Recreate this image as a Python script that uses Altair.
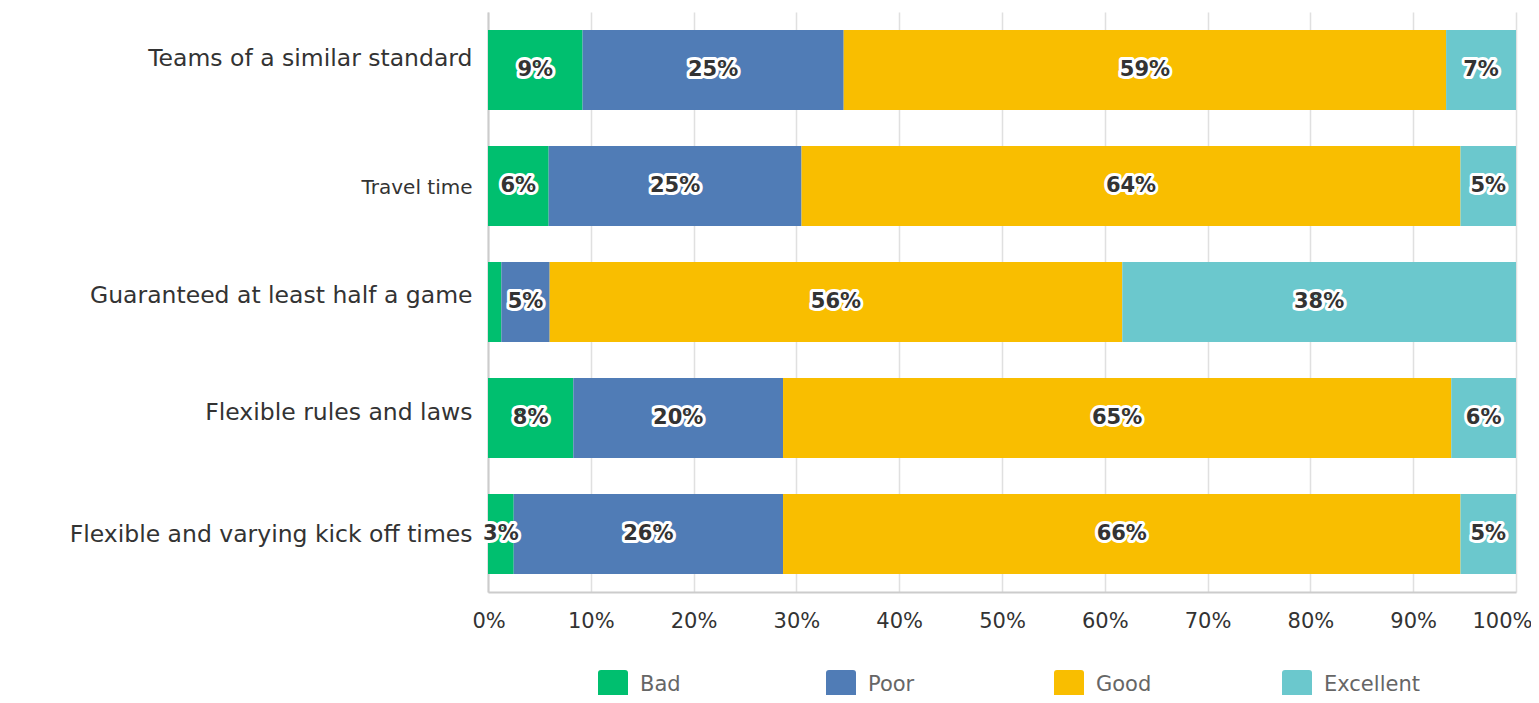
import altair as alt
import pandas as pd

questions = [
    "Teams of a similar standard",
    "Travel time",
    "Guaranteed at least half a game",
    "Flexible rules and laws",
    "Flexible and varying kick off times",
]
ratings = ["Bad", "Poor", "Good", "Excellent"]
colors = ["#00BF6F", "#507CB6", "#F9BE00", "#6BC8CD"]

bad = [9.2, 5.9, 1.3, 8.3, 2.5]
poor = [25.4, 24.6, 4.7, 20.4, 26.2]
good = [58.6, 64.1, 55.7, 65.0, 65.9]
excellent = [6.8, 5.4, 38.3, 6.3, 5.4]

tick_values = [0, 10, 20, 30, 40, 50, 60, 70, 80, 90, 100]

series = [bad, poor, good, excellent]
rows = []
for qi, q in enumerate(questions):
    for ri, r in enumerate(ratings):
        rows.append({"question": q, "rating": r, "idx": ri, "value": series[ri][qi]})
df = pd.DataFrame(rows)

FONT = "DejaVu Sans"

base = alt.Chart(df).transform_stack(
    stack="value", groupby=["question"], as_=["x0", "x1"], sort=[alt.SortField("idx")]
).transform_calculate(
    mid="(datum.x0 + datum.x1) / 2",
    label="round(datum.value) + '%'",
)

y_enc = alt.Y(
    "question:N",
    sort=questions,
    title=None,
    scale=alt.Scale(paddingInner=0.31, paddingOuter=0.155),
    axis=alt.Axis(
        domain=True,
        domainColor="#cccccc",
        domainWidth=2,
        ticks=False,
        grid=False,
        labelFontSize=alt.ExprRef("datum.value == 'Travel time' ? 20 : 23.5"),
        labelOffset=alt.ExprRef(
            "datum.value == 'Teams of a similar standard' ? -11 : "
            "datum.value == 'Guaranteed at least half a game' ? -6 : "
            "datum.value == 'Flexible rules and laws' ? -5 : "
            "datum.value == 'Travel time' ? 2 : 1"
        ),
        labelColor="#333333",
        labelFont=FONT,
        labelPadding=16,
        labelLimit=600,
    ),
)

bars = base.mark_bar().encode(
    x=alt.X(
        "x0:Q",
        title=None,
        scale=alt.Scale(domain=[0, 100], nice=False),
        axis=alt.Axis(
            values=tick_values,
            labelExpr="datum.value + '%'",
            ticks=False,
            grid=True,
            gridColor="#e0e0e0",
            gridWidth=1.5,
            domainColor="#cccccc",
            domainWidth=2,
            labelFontSize=21,
            labelColor="#333333",
            labelFont=FONT,
            labelPadding=18,
            labelFlush=1,
            labelFlushOffset=16,
        ),
    ),
    x2="x1:Q",
    y=y_enc,
    color=alt.Color(
        "rating:N",
        sort=ratings,
        scale=alt.Scale(domain=ratings, range=colors),
        legend=alt.Legend(
            title=None,
            orient="none",
            direction="horizontal",
            legendX=110,
            legendY=658,
            columns=4,
            gridAlign="all",
            columnPadding=90,
            symbolType="M -0.8 -1 L 0.8 -1 Q 1 -1 1 -0.8 L 1 0.8 Q 1 1 0.8 1 L -0.8 1 Q -1 1 -1 0.8 L -1 -0.8 Q -1 -1 -0.8 -1 Z",
            symbolSize=900,
            symbolStrokeWidth=0,
            labelFontSize=21,
            labelColor="#666666",
            labelFont=FONT,
            labelOffset=12,
            padding=0,
        ),
    ),
)

label_base = base.transform_filter("datum.value >= 2").encode(
    x=alt.X("mid:Q"),
    y=alt.Y("question:N", sort=questions),
    text="label:N",
)

halo = label_base.mark_text(
    font=FONT, fontSize=21, fontWeight="bold", stroke="white", strokeWidth=6,
    fill="white", strokeJoin="round",
)
labels = label_base.mark_text(
    font=FONT, fontSize=21, fontWeight="bold", color="#333333",
)

chart = alt.layer(bars, halo, labels).properties(
    width=1028,
    height=580,
    autosize=alt.AutoSizeParams(type="none"),
    padding={"left": 480, "top": 4, "right": 15, "bottom": 103},
).configure_view(stroke=None)

chart.save("out.html", embed_options={"renderer": "svg", "actions": False})
